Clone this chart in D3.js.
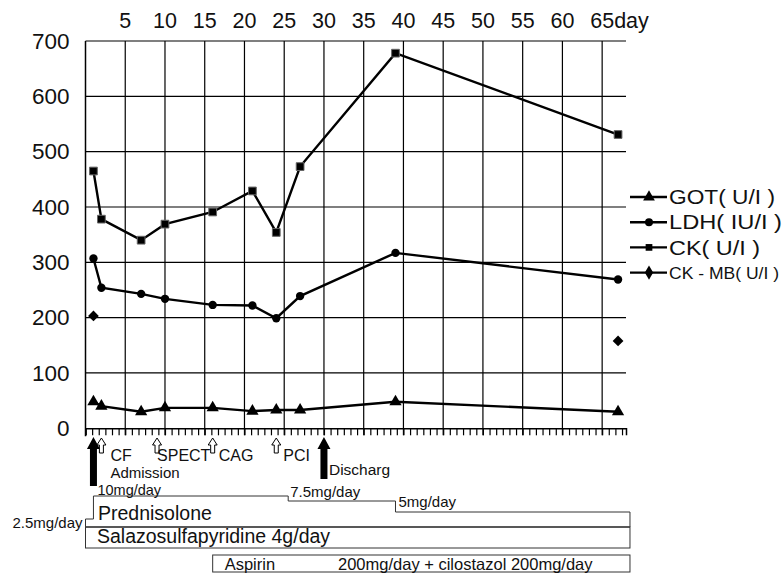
<!DOCTYPE html>
<html>
<head>
<meta charset="utf-8">
<script src="https://cdn.jsdelivr.net/npm/d3@7"></script>
<style>
body { margin: 0; background: #fff; }
text { font-family: "Liberation Sans", Arial, sans-serif; fill: #111; }
</style>
</head>
<body>
<svg id="chart" width="784" height="573"></svg>
<script>
// size of the picture
const width = 784;
const height = 573;

// lab values (day after onset)
const days = [1, 2, 7, 10, 16, 21, 24, 27, 39, 67];
const ck = [465, 378, 340, 369, 391, 429, 354, 473, 678, 531];
const ldh = [307, 254, 243, 234, 223, 222, 199, 239, 317, 269];
const got = [48, 40, 30, 37, 37, 31, 33, 33, 48, 30];
const ckmbDays = [1, 67];
const ckmb = [203, 158];

const dayTicks = [5, 10, 15, 20, 25, 30, 35, 40, 45, 50, 55, 60, 65];
const valueTicks = [0, 100, 200, 300, 400, 500, 600, 700];

// events under the axis
const bigEvents = [{day: 1, label: "Admission"}, {day: 30, label: "Discharg"}];
const smallEvents = [{day: 2, label: "CF"}, {day: 9, label: "SPECT"}, {day: 16, label: "CAG"}, {day: 24, label: "PCI"}];

// drug schedule
const predDoses = [2.5, 10, 7.5, 5];
const predStarts = [0, 1, 25.5, 39];
const drugEnd = 68.5;
const aspirinStart = 16;

const svg = d3.select("#chart");

const x = d3.scaleLinear().domain([0, 68]).range([85.5, 626]);
const y = d3.scaleLinear().domain([0, 700]).range([428.3, 41]);

// grid
svg.append("g")
.selectAll("line")
.data(valueTicks.slice(1))
.enter()
.append("line")
.attr("x1", x(0)).attr("x2", x(68))
.attr("y1", d => y(d)).attr("y2", d => y(d))
.attr("stroke", "#000").attr("stroke-width", 1.2);

svg.append("g")
.selectAll("line")
.data(dayTicks)
.enter()
.append("line")
.attr("x1", d => x(d)).attr("x2", d => x(d))
.attr("y1", y(700)).attr("y2", y(0) + 7)
.attr("stroke", "#000").attr("stroke-width", 1.2);

// y axis line
svg.append("line")
.attr("x1", x(0)).attr("x2", x(0))
.attr("y1", y(700)).attr("y2", y(0) + 8)
.attr("stroke", "#000").attr("stroke-width", 1.5);

// bottom axis with the small ticks
const xAxis = svg.append("g")
.attr("transform", "translate(0," + y(0) + ")")
.call(d3.axisBottom(x).tickValues(d3.range(0, 67.6, 5 / 6)).tickSize(7).tickFormat(""));
xAxis.select(".domain").attr("stroke", "#000").attr("stroke-width", 1.5);
xAxis.selectAll(".tick line").attr("stroke", "#000").attr("stroke-width", 1.2);

// y labels
const yAxis = svg.append("g")
.attr("transform", "translate(" + x(0) + ",0)")
.call(d3.axisLeft(y).tickValues(valueTicks).tickSize(0).tickPadding(16));
yAxis.select(".domain").remove();
yAxis.selectAll("text").style("font-size", "22.5px").attr("fill", "#111");

// day labels on top
svg.append("g")
.selectAll("text")
.data(dayTicks)
.enter()
.append("text")
.attr("x", d => x(d))
.attr("y", 28)
.attr("text-anchor", "middle")
.style("font-size", "21.5px")
.text(d => d);

svg.append("text")
.attr("x", x(65) + 12)
.attr("y", 28)
.style("font-size", "21.5px")
.text("day");

// series
const line = d3.line().x(d => x(d[0])).y(d => y(d[1]));

function drawSeries(vals, shape, size) {
	const pts = days.map((d, i) => [d, vals[i]]);
	svg.append("path")
	.attr("d", line(pts))
	.attr("fill", "none")
	.attr("stroke", "#000")
	.attr("stroke-width", 2.4);
	svg.append("g")
	.selectAll("path")
	.data(pts)
	.enter()
	.append("path")
	.attr("transform", d => "translate(" + x(d[0]) + "," + y(d[1]) + ")")
	.attr("d", d3.symbol().type(shape).size(size))
	.attr("fill", "#000")
	.attr("stroke", shape === d3.symbolSquare ? "#666" : "none")
	.attr("stroke-width", 1);
}

drawSeries(ck, d3.symbolSquare, 60);
drawSeries(ldh, d3.symbolCircle, 55);
drawSeries(got, d3.symbolTriangle, 65);

svg.append("g")
.selectAll("path")
.data(ckmbDays.map((d, i) => [d, ckmb[i]]))
.enter()
.append("path")
.attr("transform", d => "translate(" + x(d[0]) + "," + y(d[1]) + ") rotate(45)")
.attr("d", d3.symbol().type(d3.symbolSquare).size(58))
.attr("fill", "#000");

// legend
const legendItems = [
	{name: "GOT( U/I )", shape: d3.symbolTriangle, size: 60, len: 106, fs: 20},
	{name: "LDH( IU/I )", shape: d3.symbolCircle, size: 50, len: 113, fs: 20},
	{name: "CK( U/I )", shape: d3.symbolSquare, size: 45, len: 91, fs: 20},
	{name: "CK - MB( U/I )", shape: d3.symbolDiamond, size: 60, len: 110, fs: 17}
];

const legend = svg.append("g")
.selectAll("g")
.data(legendItems)
.enter()
.append("g")
.attr("transform", (d, i) => "translate(630," + (197 + i * 25.2) + ")");

legend.append("line")
.attr("x1", 0).attr("x2", 37)
.attr("stroke", "#000").attr("stroke-width", 2.4);

legend.append("path")
.attr("transform", "translate(19,0)")
.attr("d", d => d3.symbol().type(d.shape).size(d.size)())
.attr("fill", "#000");

legend.append("text")
.attr("x", 39)
.attr("dy", "0.36em")
.attr("textLength", d => d.len)
.attr("lengthAdjust", "spacingAndGlyphs")
.style("font-size", d => d.fs + "px")
.text(d => d.name);

// admission / discharge arrows
function bigArrow(cx, bottom) {
	const top = 437;
	return "M" + cx + "," + top +
		" L" + (cx + 6.5) + "," + (top + 12) +
		" L" + (cx + 3.5) + "," + (top + 12) +
		" L" + (cx + 3.5) + "," + bottom +
		" L" + (cx - 3.5) + "," + bottom +
		" L" + (cx - 3.5) + "," + (top + 12) +
		" L" + (cx - 6.5) + "," + (top + 12) + " Z";
}

svg.append("path").attr("d", bigArrow(x(bigEvents[0].day), 486)).attr("fill", "#000");
svg.append("path").attr("d", bigArrow(x(bigEvents[1].day), 479)).attr("fill", "#000");

svg.append("text")
.attr("x", x(bigEvents[0].day) + 17)
.attr("y", 478)
.style("font-size", "15px")
.text(bigEvents[0].label);

svg.append("text")
.attr("x", x(bigEvents[1].day) + 5)
.attr("y", 475)
.style("font-size", "15.5px")
.text(bigEvents[1].label);

// test arrows (hollow)
function smallArrow(cx) {
	const top = 438;
	return "M" + cx + "," + top +
		" L" + (cx + 4.5) + "," + (top + 7) +
		" L" + (cx + 2) + "," + (top + 7) +
		" L" + (cx + 2) + "," + (top + 15) +
		" L" + (cx - 2) + "," + (top + 15) +
		" L" + (cx - 2) + "," + (top + 7) +
		" L" + (cx - 4.5) + "," + (top + 7) + " Z";
}

svg.append("g")
.selectAll("path")
.data(smallEvents)
.enter()
.append("path")
.attr("d", d => smallArrow(x(d.day)))
.attr("fill", "#fff")
.attr("stroke", "#000")
.attr("stroke-width", 1);

const smallLabelShift = [9, 0, 6, 7];
svg.append("g")
.selectAll("text")
.data(smallEvents)
.enter()
.append("text")
.attr("x", (d, i) => x(d.day) + smallLabelShift[i])
.attr("y", 461)
.style("font-size", "16px")
.text(d => d.label);

// prednisolone outline
const dose = d3.scaleLinear().domain([2.5, 5, 7.5, 10]).range([519, 512, 501, 496]);
const boxMid = 527;
const boxBottom = 548;

let outline = "M" + x(predStarts[0]) + "," + boxMid;
predDoses.forEach((d, i) => {
	outline += " L" + x(predStarts[i]) + "," + dose(d);
	const next = i < predDoses.length - 1 ? predStarts[i + 1] : drugEnd;
	outline += " L" + x(next) + "," + dose(d);
});
outline += " L" + x(drugEnd) + "," + boxMid;

svg.append("path")
.attr("d", outline)
.attr("fill", "none")
.attr("stroke", "#333")
.attr("stroke-width", 1);

svg.append("line")
.attr("x1", x(0)).attr("x2", x(drugEnd))
.attr("y1", boxMid).attr("y2", boxMid)
.attr("stroke", "#555").attr("stroke-width", 1.5);

svg.append("rect")
.attr("x", x(0)).attr("y", boxMid)
.attr("width", x(drugEnd) - x(0)).attr("height", boxBottom - boxMid)
.attr("fill", "none").attr("stroke", "#333").attr("stroke-width", 1);

svg.append("rect")
.attr("x", x(aspirinStart)).attr("y", 555)
.attr("width", x(drugEnd) - x(aspirinStart)).attr("height", 17)
.attr("fill", "none").attr("stroke", "#333").attr("stroke-width", 1);

// dose labels
svg.append("text")
.attr("x", x(0) - 3).attr("y", dose(2.5) + 9)
.attr("text-anchor", "end")
.style("font-size", "15px")
.text("2.5mg/day");

svg.append("text")
.attr("x", x(1) + 4).attr("y", dose(10) - 1.5)
.style("font-size", "14.5px")
.text("10mg/day");

svg.append("text")
.attr("x", x(25.5) + 2).attr("y", dose(7.5) - 4)
.style("font-size", "15px")
.text("7.5mg/day");

svg.append("text")
.attr("x", x(39) + 3).attr("y", dose(5) - 5)
.style("font-size", "15px")
.text("5mg/day");

svg.append("text")
.attr("x", 98).attr("y", 520)
.style("font-size", "19.5px")
.text("Prednisolone");

svg.append("text")
.attr("x", 97).attr("y", 543)
.style("font-size", "19.5px")
.text("Salazosulfapyridine 4g/day");

svg.append("text")
.attr("x", x(aspirinStart) + 12).attr("y", 570)
.style("font-size", "16.5px")
.text("Aspirin");

svg.append("text")
.attr("x", 338).attr("y", 570)
.style("font-size", "16.5px")
.text("200mg/day + cilostazol 200mg/day");
</script>
</body>
</html>
